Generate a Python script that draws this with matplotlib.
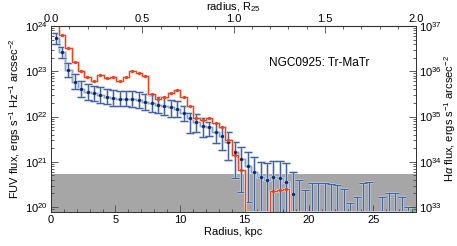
import numpy as np
import matplotlib
matplotlib.use("Agg")
import matplotlib.pyplot as plt
from matplotlib.ticker import FixedLocator, FuncFormatter, LogLocator, NullFormatter, MultipleLocator

plt.rcParams['font.family'] = ['Liberation Sans', 'DejaVu Sans']
plt.rcParams['mathtext.fontset'] = 'custom'
plt.rcParams['mathtext.rm'] = 'Liberation Sans'
plt.rcParams['mathtext.it'] = 'Liberation Sans:italic'

# ---------------- data ----------------
radius_kpc = [0.35, 0.85, 1.34, 1.84, 2.34, 2.83, 3.33, 3.83, 4.32, 4.82,
              5.32, 5.82, 6.31, 6.81, 7.31, 7.80, 8.30, 8.80, 9.29, 9.79,
              10.29, 10.78, 11.28, 11.78, 12.27, 12.77, 13.27, 13.76, 14.26, 14.76,
              15.26, 15.75, 16.25, 16.75, 17.24, 17.74, 18.24, 18.73, 19.23, 19.73,
              20.22, 20.72, 21.22, 21.71, 22.21, 22.71, 23.20, 23.70, 24.20, 24.69,
              25.19, 25.69, 26.18, 26.68, 27.18, 27.68]

fuv = [5.35e23, 2.62e23, 1.07e23, 5.81e22, 4.13e22, 3.55e22, 3.27e22, 3.00e22, 2.75e22, 2.54e22,
       2.48e22, 2.48e22, 2.45e22, 2.32e22, 2.13e22, 1.97e22, 1.80e22, 1.71e22, 1.60e22, 1.49e22,
       1.18e22, 9.08e21, 7.48e21, 6.30e21, 5.81e21, 4.50e21, 3.78e21, 2.79e21, 1.61e21, 1.13e21,
       7.91e20, 5.83e20, 4.65e20, 3.93e20, 4.53e20, 4.35e20, 3.51e20, 1.94e20]

fuv_hi = [6.9e23, 3.4e23, 1.52e23, 8.5e22, 6.1e22, 5.25e22, 4.73e22, 4.39e22, 4.06e22, 3.77e22,
          3.67e22, 3.67e22, 3.58e22, 3.40e22, 3.15e22, 2.92e22, 2.71e22, 2.58e22, 2.38e22, 2.21e22,
          1.71e22, 1.20e22, 1.14e22, 9.2e21, 7.7e21, 7.2e21, 6.0e21, 4.6e21, 2.8e21, 2.17e21,
          1.68e21, 1.30e21, 9.8e20, 9.6e20, 1.06e21, 1.06e21, 9.5e20, 6.1e20, 3.98e20, 2.40e20,
          3.37e20, 3.37e20, 3.34e20, 3.25e20, 3.09e20, 2.48e20, 1.22e20, 1.71e20, 3.47e20, 3.55e20,
          5.0e19, 1.65e20, 2.09e20, 2.03e20, 1.65e20, 1.03e20]

fuv_lo = [4.1e23, 2.0e23, 7.5e22, 3.96e22, 2.71e22, 2.38e22, 2.21e22, 2.0e22, 1.85e22, 1.71e22,
          1.67e22, 1.67e22, 1.63e22, 1.55e22, 1.40e22, 1.26e22, 1.17e22, 1.08e22, 1.00e22, 9.8e21,
          8.0e21, 4.4e21, 4.57e21, 3.6e21, 3.73e21, 2.58e21, 1.83e21, 1.10e21, 4.35e20, 2.17e20,
          1.30e20, 1e19, 1e19, 1e19, 1e19, 1e19, 1e19, 1e19]

halpha = [1.3e37, 6.3e36, 3.27e36, 1.63e36, 1.0e36, 7.6e35, 6.0e35, 8.4e35, 7.1e35, 7.5e35,
          6.1e35, 7.4e35, 1.03e36, 9.2e35, 7.9e35, 3.18e35, 2.48e35, 2.75e35, 3.32e35, 3.86e35,
          2.64e35, 1.69e35, 9.3e34, 8.4e34, 9.2e34, 7.2e34, 5.8e34, 3.04e34, 1.42e34, 6.7e33,
          np.nan, np.nan, np.nan, np.nan, 2.31e33, 2.40e33, 2.48e33, np.nan, np.nan, np.nan,
          np.nan, np.nan, np.nan, np.nan, np.nan, np.nan, np.nan, np.nan, np.nan, np.nan,
          np.nan, np.nan, np.nan, np.nan, np.nan, np.nan]

r25_kpc = 14.15
sky_level = 5.4e20
x_range = (0, 28.3)
fuv_range = (7.8e19, 1.0e24)
ha_scale = 1e13
xticks_kpc = [0, 5, 10, 15, 20, 25]
xticks_r25 = [0.0, 0.5, 1.0, 1.5, 2.0]

# ---------------- figure ----------------
W, H = 457, 246
fig = plt.figure(figsize=(W / 100, H / 100), dpi=100)
ax = fig.add_axes([51 / W, 34 / H, 365 / W, 186 / H])

red = '#e8401c'
red_pale = '#f8c3b6'
blue_pt = '#0b2a66'
blue_err = '#44639f'
blue_pale = '#c3cfe4'
FS = 8

r = np.array(radius_kpc)
f = np.array(fuv)
fhi = np.array(fuv_hi)
flo = np.array(fuv_lo)
ha = np.array(halpha)
ylo = fuv_range[0]

ax.set_xlim(*x_range)
ax.set_yscale('log')
ax.set_ylim(*fuv_range)

# sky/noise band
ax.axhspan(ylo, sky_level, color='#a6a6a6', zorder=0, lw=0)

# pale blue step band
nf = len(f)
ax.step(r[:nf], f, where='mid', color=blue_pale, lw=2.0, zorder=1)
ax.step(r[:nf], f, where='mid', color=blue_err, lw=0.5, alpha=0.6, zorder=1.5)

# blue error bars (all bins)
fval_full = np.concatenate([f, np.full(len(fhi) - nf, ylo * 0.5)])
flo_full = np.concatenate([flo, np.full(len(fhi) - nf, 1e19)])
upper = fhi - fval_full
lower = fval_full - flo_full
ax.errorbar(r, fval_full, yerr=[lower, upper], fmt='none', ecolor=blue_pale,
            elinewidth=1.8, capsize=2.6, capthick=1.8, zorder=2)
ax.errorbar(r, fval_full, yerr=[lower, upper], fmt='none', ecolor=blue_err,
            elinewidth=0.8, capsize=2.6, capthick=0.8, zorder=3)
ax.plot(r[:nf], f, 'o', color=blue_pt, ms=2.4, mew=0, zorder=4)

# H-alpha on twin axis
ax2 = ax.twinx()
ax2.set_yscale('log')
ax2.set_ylim(fuv_range[0] * ha_scale, fuv_range[1] * ha_scale)
ha_line = np.where(np.isnan(ha), fuv_range[0] * ha_scale * 1.02, ha)
ax2.step(r, ha_line, where='mid', color=red_pale, lw=2.0, zorder=1)
ax2.step(r, ha_line, where='mid', color=red, lw=0.7, zorder=2)
ax2.plot(r, ha, 'o', color=red, ms=2.4, mew=0, zorder=3)

# text
ax.text(0.735, 0.80, 'NGC0925: Tr-MaTr', transform=ax.transAxes, ha='center', va='center',
        fontsize=8.5)

# ticks & labels
for a in (ax, ax2):
    a.tick_params(which='both', direction='in', color='#444444', width=0.6)
    a.tick_params(which='major', length=5, labelsize=FS, pad=2.5)
    a.tick_params(which='minor', length=2.5)
    for s in a.spines.values():
        s.set_linewidth(0.7)
        s.set_color('#333333')

ax.xaxis.set_major_locator(FixedLocator(xticks_kpc))
ax.xaxis.set_minor_locator(MultipleLocator(1))
ax.set_xlabel('Radius, kpc', fontsize=FS, labelpad=1)

fmt = FuncFormatter(lambda v, _: r'$\mathregular{10^{%d}}$' % int(round(np.log10(v))))
ax.yaxis.set_major_locator(LogLocator(base=10, numticks=20))
ax.yaxis.set_minor_locator(LogLocator(base=10, subs=np.arange(2, 10), numticks=20))
ax.yaxis.set_major_formatter(fmt)
ax.yaxis.set_minor_formatter(NullFormatter())
ax.set_ylabel(r'FUV flux, ergs s$^{-1}$ Hz$^{-1}$ arcsec$^{-2}$', fontsize=FS, labelpad=1)

ax2.yaxis.set_major_locator(LogLocator(base=10, numticks=20))
ax2.yaxis.set_minor_locator(LogLocator(base=10, subs=np.arange(2, 10), numticks=20))
ax2.yaxis.set_major_formatter(fmt)
ax2.yaxis.set_minor_formatter(NullFormatter())
ax2.set_ylabel(r'H$\alpha$ flux, ergs s$^{-1}$ arcsec$^{-2}$', fontsize=FS, labelpad=0)

top = ax.secondary_xaxis('top', functions=(lambda x: x / r25_kpc, lambda x: x * r25_kpc))
top.xaxis.set_major_locator(FixedLocator(xticks_r25))
top.xaxis.set_minor_locator(MultipleLocator(0.1))
top.xaxis.set_major_formatter(FuncFormatter(lambda v, _: '%.1f' % v))
top.tick_params(which='both', direction='in', color='#444444', width=0.6)
top.tick_params(which='major', length=5, labelsize=FS, pad=1.5)
top.tick_params(which='minor', length=2.5)

# top axis title placed in the strip above the tick labels
pos = ax.get_position()
fig.text((pos.x0 + pos.x1) / 2, 1 - 0.5 / H, r'radius, R$_{25}$', ha='center', va='top',
         fontsize=FS)

fig.savefig('out.png', dpi=100)
